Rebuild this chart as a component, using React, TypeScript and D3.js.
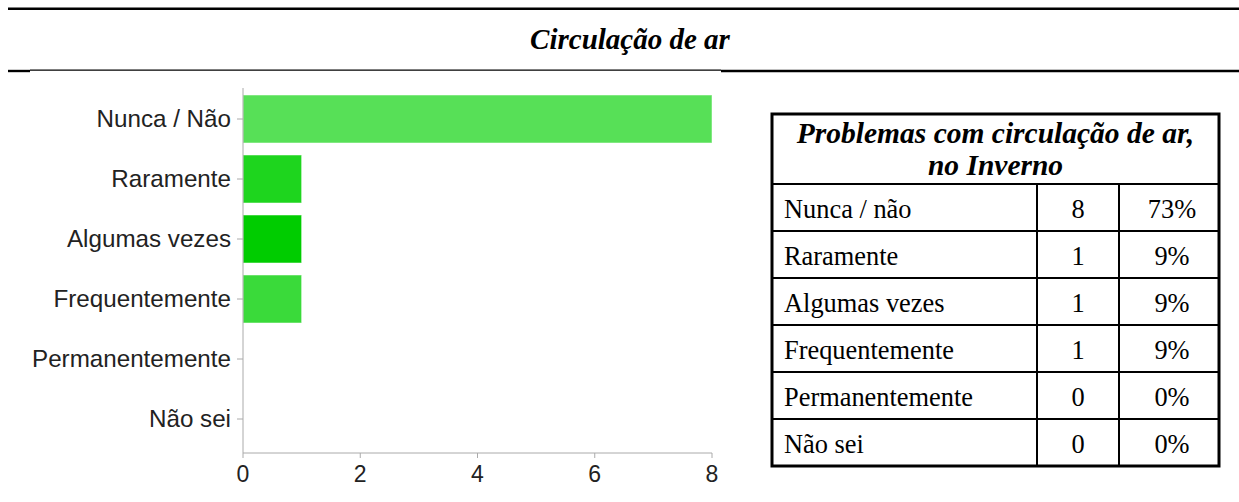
import React from "react";
import * as d3 from "d3";

// chart data
const categories = ["Nunca / Não", "Raramente", "Algumas vezes", "Frequentemente", "Permanentemente", "Não sei"];
const counts = [8, 1, 1, 1, 0, 0];
const barColors = ["#57e057", "#1ed51e", "#00cc00", "#3ada3a", "#57e057", "#57e057"];
const xTicks = [0, 2, 4, 6, 8];

// table data
const tableTitle = ["Problemas com circulação de ar,", "no Inverno"];
const tableLabels = ["Nunca / não", "Raramente", "Algumas vezes", "Frequentemente", "Permanentemente", "Não sei"];
const tableCounts = [8, 1, 1, 1, 0, 0];
const tablePercents = ["73%", "9%", "9%", "9%", "0%", "0%"];

const W = 1239;
const H = 502;

const App = () => {
    // scales for the bar chart
    const x = d3.scaleLinear().domain([0, 8]).range([243, 712]);
    const y = d3
        .scaleBand<string>()
        .domain(categories)
        .range([89, 449])
        .paddingInner(0.2)
        .paddingOuter(0.1);
    const axisBottom = 453;

    // table geometry
    const tLeft = 772, tRight = 1219, tTop = 114, headBottom = 184, rowH = 47;
    const col1 = 1037, col2 = 1119;
    const rowY = d3.range(tableLabels.length + 1).map((i) => headBottom + i * rowH);
    const serif = "'Liberation Serif', 'Times New Roman', serif";
    const sans = "'Liberation Sans', Arial, sans-serif";

    return (
        <svg width={W} height={H} style={{ position: "absolute", left: 0, top: 0, background: "#fff" }}>
            {/* header rules */}
            <line x1={8} x2={W} y1={8.75} y2={8.75} stroke="#000" strokeWidth={2.5} />
            <line x1={30} x2={721} y1={70.2} y2={70.2} stroke="#000" strokeWidth={1.2} />
            <line x1={8} x2={30} y1={71} y2={71} stroke="#000" strokeWidth={2.4} />
            <line x1={721} x2={W} y1={71} y2={71} stroke="#000" strokeWidth={2.4} />
            <text x={630} y={49} textAnchor="middle" fontFamily={serif} fontWeight="bold" fontStyle="italic" fontSize={29}>
                Circulação de ar
            </text>

            {/* bars */}
            {categories.map((c, i) =>
                counts[i] > 0 ? (
                    <rect
                        key={c}
                        x={x(0)}
                        y={y(c)}
                        width={x(counts[i]) - x(0)}
                        height={y.bandwidth()}
                        fill={barColors[i]}
                        stroke="#ffffff"
                        strokeOpacity={0.5}
                        strokeWidth={1}
                    />
                ) : null
            )}

            {/* y axis */}
            <line x1={243} x2={243} y1={88} y2={axisBottom} stroke="#aaa" strokeWidth={1} />
            {categories.map((c) => {
                const cy = (y(c) ?? 0) + y.bandwidth() / 2;
                return (
                    <g key={c}>
                        <line x1={237} x2={243} y1={cy} y2={cy} stroke="#aaa" />
                        <text x={231} y={cy + 8} textAnchor="end" fontFamily={sans} fontSize={24.2} fill="#222">
                            {c}
                        </text>
                    </g>
                );
            })}

            {/* x axis */}
            <line x1={243} x2={712} y1={axisBottom} y2={axisBottom} stroke="#aaa" strokeWidth={1} />
            {xTicks.map((t) => (
                <g key={t}>
                    <line x1={x(t)} x2={x(t)} y1={axisBottom} y2={axisBottom + 5} stroke="#aaa" />
                    <text x={x(t)} y={482} textAnchor="middle" fontFamily={sans} fontSize={23} fill="#222">
                        {t}
                    </text>
                </g>
            ))}

            {/* table */}
            {tableTitle.map((t, i) => (
                <text
                    key={t}
                    x={(tLeft + tRight) / 2}
                    y={143 + i * 32}
                    textAnchor="middle"
                    fontFamily={serif}
                    fontWeight="bold"
                    fontStyle="italic"
                    fontSize={29.5}
                >
                    {t}
                </text>
            ))}
            {rowY.slice(0, -1).map((ry, i) => (
                <line key={"r" + i} x1={tLeft} x2={tRight} y1={ry} y2={ry} stroke="#000" strokeWidth={2} />
            ))}
            <line x1={col1} x2={col1} y1={headBottom} y2={rowY[rowY.length - 1]} stroke="#000" strokeWidth={2} />
            <line x1={col2} x2={col2} y1={headBottom} y2={rowY[rowY.length - 1]} stroke="#000" strokeWidth={2} />
            <rect x={tLeft} y={tTop} width={tRight - tLeft} height={rowY[rowY.length - 1] - tTop} fill="none" stroke="#000" strokeWidth={3} />
            {tableLabels.map((l, i) => {
                const by = rowY[i] + rowH / 2 + 10;
                return (
                    <g key={l} fontFamily={serif} fontSize={26.4}>
                        <text x={784} y={by}>{l}</text>
                        <text x={(col1 + col2) / 2} y={by} textAnchor="middle">{tableCounts[i]}</text>
                        <text x={(col2 + tRight) / 2 + 3} y={by} textAnchor="middle">{tablePercents[i]}</text>
                    </g>
                );
            })}
        </svg>
    );
};

export default App;
